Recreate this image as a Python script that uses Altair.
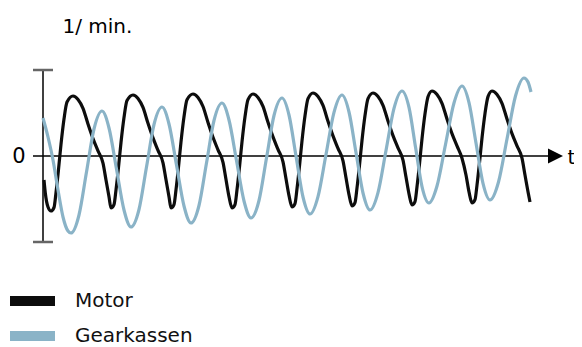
import altair as alt
import pandas as pd

# ---- data (t in px-like time units, v in 1/min units; 0 = zero line) ----
motor_t = [1, 2.3, 5, 8,
           11, 13, 15.5, 18, 21, 24, 30,
           35, 40, 45, 50, 55, 60, 63, 66, 68,
           71, 73, 75.5, 78, 81, 84, 90,
           95, 100, 105, 110, 115, 120, 123, 126, 128,
           131, 133, 135.5, 138, 141, 144, 150,
           155, 160, 165, 170, 175, 180, 183, 186, 189,
           192, 194, 196.5, 199, 202, 205, 210,
           215, 220, 225, 230, 235, 240, 243, 246, 249,
           252, 254, 256.5, 259, 262, 265, 270,
           275, 280, 285, 290, 295, 300, 303, 306, 309,
           312, 314, 316.5, 319, 322, 325, 330,
           335, 340, 345, 350, 355, 360, 363, 366, 369,
           372, 374, 376.5, 379, 382, 385, 389,
           394, 399, 404, 409, 414, 419, 423, 426, 429,
           432, 434, 436.5, 439, 442, 445, 449,
           454, 459, 464, 469, 474, 479, 482, 485, 487]
motor_v = [-24, -37, -51, -55,
           -51.5, -36.6, -13.6, 11.7, 37, 54, 60,
           56.6, 47.7, 32, 17.4, 5.1, -7.2, -24, -40.8, -52,
           -48.6, -33.9, -11.3, 13.5, 38.4, 55.4, 61,
           57.6, 48.6, 32.7, 18.1, 5.6, -6.8, -23.8, -40.7, -52,
           -48.6, -33.8, -11, 14.1, 39.2, 56.3, 62,
           58.6, 49.5, 33.5, 18.7, 6.1, -6.4, -23.5, -40.6, -52,
           -48.6, -33.8, -11, 14.1, 39.2, 56.3, 62,
           58.6, 49.6, 33.7, 19.1, 6.6, -5.8, -22.8, -39.7, -51,
           -47.6, -32.8, -10, 15.1, 40.2, 57.3, 63,
           59.6, 50.6, 34.7, 20.1, 7.6, -4.8, -21.8, -38.7, -50,
           -46.6, -31.9, -9.3, 15.5, 40.4, 57.4, 63,
           59.6, 50.7, 35, 20.4, 8.1, -4.2, -21, -37.8, -49,
           -45.6, -30.8, -8, 17.1, 42.2, 59.3, 65,
           61.6, 52.7, 37, 22.4, 10.1, -2.2, -19, -35.8, -47,
           -43.6, -29.1, -6.7, 18, 42.6, 59.4, 65,
           61.6, 52.7, 37, 22.4, 10.1, -2.2, -19, -35.8, -46]

gear_t = [0, 5, 10, 15, 20, 25, 28,
          36, 43.5, 51, 59,
          66, 73.5, 81, 88,
          96, 103.5, 111, 119,
          126, 133.5, 141, 148,
          156, 163.5, 171, 179,
          186, 193.5, 201, 208,
          216, 223.5, 231, 239,
          246, 253, 260, 267,
          275, 283, 291, 299,
          306, 313, 320, 327,
          335, 343, 351, 359,
          366, 372.5, 379, 386,
          394, 402.5, 411, 419,
          426, 433, 440, 447,
          455.5, 464, 472.5, 481,
          485, 488]
gear_v = [38, 19, -4, -34, -61, -75, -77,
          -59, -16, 27, 45,
          28, -13, -54, -71,
          -53.5, -11, 31.5, 49,
          32, -9, -50, -67,
          -49.5, -7, 35.5, 53,
          36, -4.5, -45, -62,
          -44.5, -2, 40.5, 58,
          41, 0, -41, -58,
          -40.6, 1.5, 43.6, 61,
          44, 3.5, -37, -54,
          -36.6, 5.5, 47.6, 65,
          48.6, 9, -30.6, -47,
          -30, 11.5, 53, 70,
          53.4, 13, -27.4, -44,
          -26, 17, 60, 78,
          74, 64]

series_names = ["Motor", "Gearkassen"]
series_colors = ["#0d0d0d", "#8ab3c7"]

# axis furniture values
y_top, y_bottom = 86, -86
zero_start, zero_end = -10, 507
arrow_t = 512.5
tick_half = 10

X_DOMAIN = [-10, 531]
Y_DOMAIN = [-94, 96]
FONT = "DejaVu Sans"

motor_df = pd.DataFrame({"t": motor_t, "v": motor_v, "series": "Motor"})
gear_df = pd.DataFrame({"t": gear_t, "v": gear_v, "series": "Gearkassen"})

xs = alt.Scale(domain=X_DOMAIN, nice=False, zero=False)
ys = alt.Scale(domain=Y_DOMAIN, nice=False, zero=False)
cs = alt.Scale(domain=series_names, range=series_colors)

x_axis = alt.Axis(labels=False, ticks=False, domain=False, grid=False,
                  title="t", titleX=534, titleY=-87, titleAlign="left",
                  titleBaseline="alphabetic", titleFontSize=20,
                  titleFontWeight="normal", titleColor="black", titleFont=FONT)
y_axis = alt.Axis(values=[0], ticks=False, tickSize=0, domain=False, grid=False,
                  labelFontSize=21, labelColor="black", labelFont=FONT,
                  labelPadding=8,
                  title="1/ min.", titleAngle=0, titleX=29, titleY=-28,
                  titleAlign="left", titleBaseline="alphabetic",
                  titleFontSize=20, titleFontWeight="normal",
                  titleColor="black", titleFont=FONT)

legend = alt.Legend(title=None, orient="none", legendX=-28, legendY=229,
                    symbolType="stroke", symbolSize=2025, symbolStrokeWidth=10,
                    clipHeight=24, rowPadding=11, labelOffset=15,
                    labelFontSize=20, labelFont=FONT, labelColor="#111",
                    padding=0)

# axes drawn as rules
vaxis = alt.Chart(pd.DataFrame({"t": [0], "v": [y_bottom], "v2": [y_top]})).mark_rule(
    color="black", strokeWidth=1.5).encode(
    x=alt.X("t:Q", scale=xs, axis=x_axis), y=alt.Y("v:Q", scale=ys, axis=y_axis), y2="v2:Q")

ticks = alt.Chart(pd.DataFrame({"t": [-tick_half, -tick_half], "t2": [tick_half, tick_half],
                                "v": [y_top, y_bottom]})).mark_rule(
    color="#666666", strokeWidth=2.5).encode(
    x=alt.X("t:Q", scale=xs), x2="t2:Q", y=alt.Y("v:Q", scale=ys))

zero = alt.Chart(pd.DataFrame({"t": [zero_start], "t2": [zero_end], "v": [0]})).mark_rule(
    color="black", strokeWidth=1.5).encode(
    x=alt.X("t:Q", scale=xs), x2="t2:Q", y=alt.Y("v:Q", scale=ys))

arrow = alt.Chart(pd.DataFrame({"t": [arrow_t], "v": [0]})).mark_point(
    shape="M-1,-1L1,0L-1,1Z", size=225, filled=True, color="black", opacity=1,
    strokeWidth=0).encode(
    x=alt.X("t:Q", scale=xs), y=alt.Y("v:Q", scale=ys))

motor = alt.Chart(motor_df).mark_line(interpolate="monotone", strokeWidth=3.2).encode(
    x=alt.X("t:Q", scale=xs), y=alt.Y("v:Q", scale=ys),
    color=alt.Color("series:N", scale=cs, legend=legend))

gear = alt.Chart(gear_df).mark_line(interpolate="monotone", strokeWidth=3.2).encode(
    x=alt.X("t:Q", scale=xs), y=alt.Y("v:Q", scale=ys),
    color=alt.Color("series:N", scale=cs, legend=legend))

chart = alt.layer(vaxis, ticks, zero, arrow, motor, gear).properties(
    width=541, height=190,
    autosize=alt.AutoSizeParams(type="none"),
    padding={"left": 25, "top": 52, "right": 0, "bottom": 97},
    background="white",
).configure_view(stroke=None, strokeWidth=0)

chart.save("out.html", embed_options={"renderer": "svg", "actions": False})
